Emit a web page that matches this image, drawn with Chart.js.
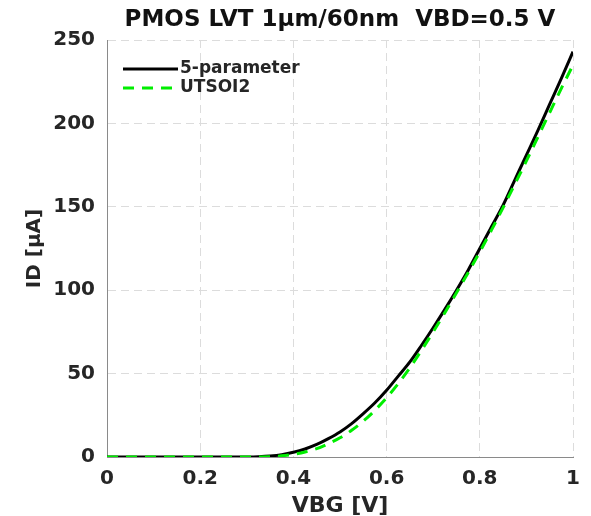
<!DOCTYPE html>
<html>
<head>
<meta charset="utf-8">
<script src="https://cdn.jsdelivr.net/npm/chart.js@4.4.1/dist/chart.umd.min.js"></script>
<style>
  html, body { margin: 0; padding: 0; background: #fff; }
  #wrap { width: 591px; height: 516px; }
</style>
</head>
<body>
<div id="wrap"><canvas id="idChart"></canvas></div>
<script>
// gate voltage sweep [V]
const vbg = [0, 0.05, 0.1, 0.15, 0.2, 0.25, 0.3, 0.325, 0.35, 0.375, 0.4, 0.425, 0.45, 0.475,
             0.5, 0.525, 0.55, 0.575, 0.6, 0.625, 0.65, 0.675, 0.7, 0.725, 0.75, 0.775,
             0.8, 0.825, 0.85, 0.875, 0.9, 0.925, 0.95, 0.975, 1.0];

// drain current [uA]
const idFiveParam = [0, 0, 0, 0, 0, 0, 0.05, 0.2, 0.6, 1.4, 2.8, 4.8, 7.5, 11,
                     15, 20, 26, 32.5, 40, 48.5, 57, 67, 77.5, 88.5, 100, 112,
                     125, 138, 151, 166, 181, 196, 211.5, 227, 243];
const idUtsoi2 = [0, 0, 0, 0, 0, 0, 0, 0.05, 0.2, 0.7, 1.6, 3, 5, 8,
                  11.5, 16, 21.5, 28, 35.5, 44, 53.5, 64, 75, 86.5, 98.5, 110.5,
                  123, 136, 149.5, 163.5, 177.5, 192, 206.5, 221, 235];

const xTicks = [0, 0.2, 0.4, 0.6, 0.8, 1];
const yTicks = [0, 50, 100, 150, 200, 250];

const toPoints = (xs, ys) => xs.map((x, i) => ({ x: x, y: ys[i] }));

const FONT = "'DejaVu Sans', sans-serif";
const TXT = '#262626';

// legend drawn inside the top-left of the plot, MATLAB style
const innerLegend = {
    id: 'innerLegend',
    afterDatasetsDraw(chart) {
        const { ctx, chartArea } = chart;
        const x0 = chartArea.left + 16;
        let y = chartArea.top + 29;
        ctx.save();
        ctx.font = "bold 17px " + FONT;
        ctx.textBaseline = 'middle';
        chart.data.datasets.forEach(ds => {
            ctx.beginPath();
            ctx.strokeStyle = ds.borderColor;
            ctx.lineWidth = ds.borderWidth;
            ctx.setLineDash(ds.borderDash || []);
            ctx.moveTo(x0, y);
            ctx.lineTo(x0 + 55, y);
            ctx.stroke();
            ctx.setLineDash([]);
            ctx.fillStyle = TXT;
            ctx.fillText(ds.label, x0 + 57, y);
            y += 19;
        });
        ctx.restore();
    }
};

const ctx = document.getElementById('idChart').getContext('2d');
new Chart(ctx, {
    type: 'line',
    data: {
        datasets: [{
            label: '5-parameter',
            data: toPoints(vbg, idFiveParam),
            borderColor: '#000000',
            borderWidth: 3,
            pointRadius: 0,
            cubicInterpolationMode: 'monotone',
            order: 1
        }, {
            label: 'UTSOI2',
            data: toPoints(vbg, idUtsoi2),
            borderColor: '#00ee00',
            borderWidth: 3,
            borderDash: [11, 8],
            pointRadius: 0,
            cubicInterpolationMode: 'monotone',
            order: 0
        }]
    },
    options: {
        responsive: true,
        maintainAspectRatio: false,
        animation: false,
        layout: { padding: { left: 0, right: 18, top: 0, bottom: 0 } },
        plugins: {
            legend: { display: false },
            tooltip: { enabled: false },
            title: {
                display: true,
                fullSize: false,
                text: 'PMOS LVT 1µm/60nm  VBD=0.5 V',
                color: '#111',
                font: { family: FONT, size: 23, weight: 'bold', lineHeight: 1.2 },
                padding: { top: 6, bottom: 6.4 }
            }
        },
        scales: {
            x: {
                type: 'linear',
                min: 0,
                max: 1,
                afterFit: s => { s.height = 59; },
                afterBuildTicks: s => { s.ticks = xTicks.map(v => ({ value: v })); },
                ticks: {
                    color: TXT,
                    padding: 10,
                    font: { family: FONT, size: 20, weight: 'bold' },
                    callback: v => String(v)
                },
                grid: { color: '#dcdcdc', drawTicks: false },
                border: { color: '#8a8a8a', width: 1, dash: [8, 5] },
                title: {
                    display: true,
                    text: 'VBG [V]',
                    color: TXT,
                    font: { family: FONT, size: 22, weight: 'bold', lineHeight: 1 },
                    padding: { top: 0, bottom: -1 }
                }
            },
            y: {
                min: 0,
                max: 250,
                afterFit: s => { s.width = 107; },
                afterBuildTicks: s => { s.ticks = yTicks.map(v => ({ value: v })); },
                ticks: {
                    color: TXT,
                    padding: 12,
                    font: { family: FONT, size: 20, weight: 'bold' }
                },
                grid: { color: '#dcdcdc', drawTicks: false },
                border: { color: '#8a8a8a', width: 1, dash: [8, 5] },
                title: {
                    display: true,
                    text: 'ID [µA]',
                    color: TXT,
                    font: { family: FONT, size: 20, weight: 'bold', lineHeight: 1.2 },
                    padding: { top: 23, bottom: 0 }
                }
            }
        }
    },
    plugins: [innerLegend]
});
</script>
</body>
</html>
